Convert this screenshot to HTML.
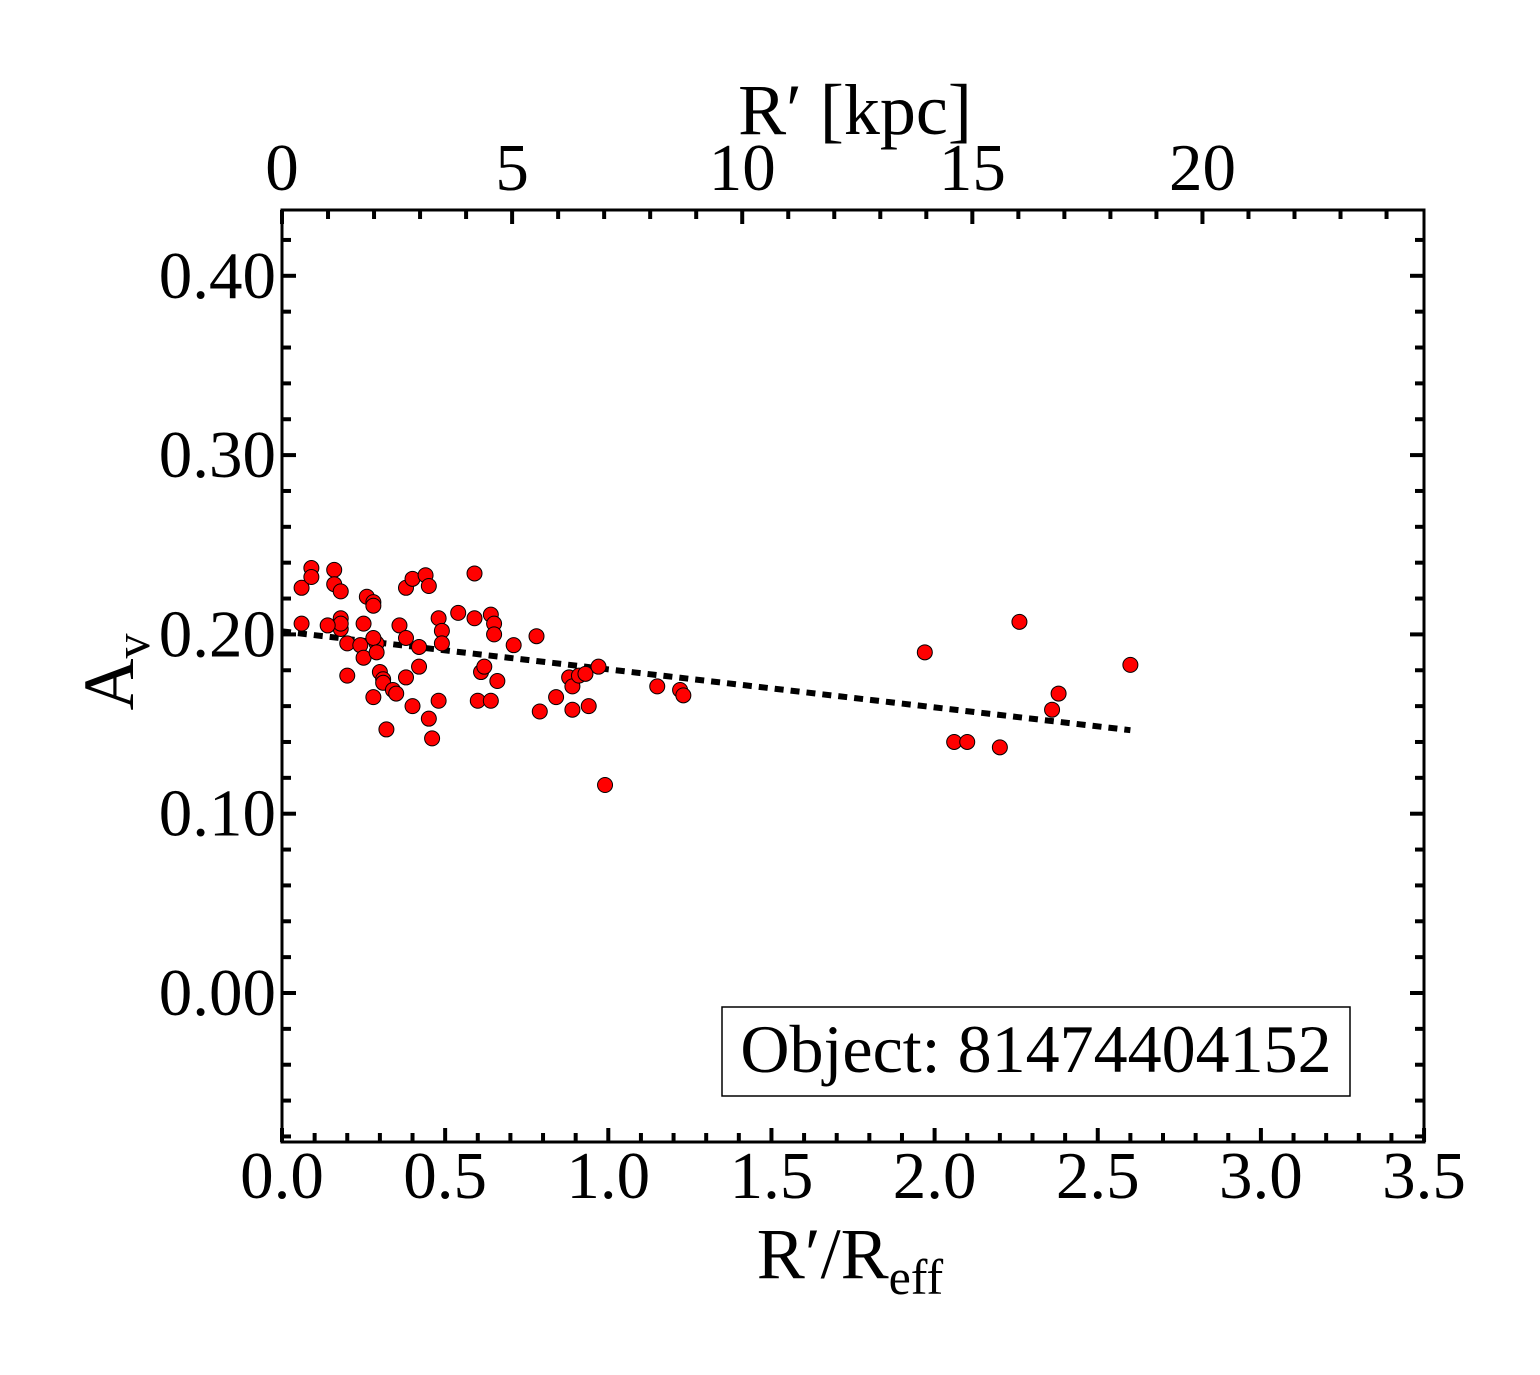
<!DOCTYPE html>
<html><head><meta charset="utf-8"><style>
body{margin:0;background:#fff;}
svg{display:block;font-family:"Liberation Serif",serif;}
</style></head><body>
<svg id="chart" width="1540" height="1375" viewBox="0 0 1540 1375">
<rect x="0" y="0" width="1540" height="1375" fill="#fff"/>
<g id="ticks"></g>
<line id="fit" stroke="#000" stroke-width="6" stroke-dasharray="9,7"/>
<g id="points"></g>
<rect x="282" y="210" width="1142" height="932" fill="none" stroke="#000" stroke-width="3"/>
<g id="labels" font-size="67" fill="#000"></g>
<text x="855" y="134" font-size="72" text-anchor="middle">R′ [kpc]</text>
<text x="850" y="1278" font-size="72" text-anchor="middle">R′/R<tspan font-size="50" dy="16">eff</tspan></text>
<text transform="translate(133,672) rotate(-90)" font-size="72" text-anchor="middle">A<tspan font-size="50" dy="16">v</tspan></text>
<rect x="722" y="1007" width="628" height="89" fill="#fff" stroke="#000" stroke-width="1.5"/>
<text x="1036" y="1072" font-size="68" text-anchor="middle">Object: 81474404152</text>
</svg>
<script>
const xs=[0.06,0.06,0.09,0.09,0.16,0.16,0.18,0.18,0.18,0.18,0.14,0.2,0.2,0.25,0.24,0.25,0.26,0.28,0.28,0.29,0.28,0.29,0.28,0.3,0.31,0.32,0.31,0.34,0.35,0.38,0.38,0.36,0.38,0.4,0.4,0.42,0.44,0.45,0.45,0.46,0.42,0.48,0.49,0.49,0.48,0.54,0.59,0.59,0.6,0.61,0.62,0.64,0.65,0.65,0.64,0.66,0.71,0.78,0.79,0.84,0.88,0.89,0.89,0.91,0.94,0.93,0.97,0.99,1.15,1.22,1.23,1.97,2.06,2.1,2.2,2.26,2.36,2.38,2.6];
const ys=[0.226,0.206,0.237,0.232,0.236,0.228,0.224,0.209,0.203,0.206,0.205,0.195,0.177,0.206,0.194,0.187,0.221,0.218,0.216,0.195,0.198,0.19,0.165,0.179,0.175,0.147,0.173,0.169,0.167,0.176,0.226,0.205,0.198,0.231,0.16,0.182,0.233,0.227,0.153,0.142,0.193,0.209,0.202,0.195,0.163,0.212,0.234,0.209,0.163,0.179,0.182,0.211,0.206,0.2,0.163,0.174,0.194,0.199,0.157,0.165,0.176,0.158,0.171,0.177,0.16,0.178,0.182,0.116,0.171,0.169,0.166,0.19,0.14,0.14,0.137,0.207,0.158,0.167,0.183];
const fitCoef=[0.2017,-0.0212];
const fitRange=[0,2.6];
const xTicks=["0.0","0.5","1.0","1.5","2.0","2.5","3.0","3.5"];
const yTicks=["0.00","0.10","0.20","0.30","0.40"];
const kpcTicks=["0","5","10","15","20"];
const kpcPerUnit=7.09;
const X=v=>282+v*326.3, Y=v=>993-v*1793, K=v=>282+v*(326.3/kpcPerUnit);
const NS="http://www.w3.org/2000/svg";
function mk(t,a,p){const e=document.createElementNS(NS,t);for(const k in a)e.setAttribute(k,a[k]);p.appendChild(e);return e;}
const tg=document.getElementById('ticks'),lg=document.getElementById('labels'),pg=document.getElementById('points');
function tk(x1,y1,x2,y2){const l=mk('line',{x1,y1,x2,y2,stroke:'#000','stroke-width':4},tg);

}
for(let i=0;i<=35;i++){const x=X(i/10),len=i%5==0?14:9;tk(x,1142,x,1142-len);}
for(let i=0;i<=24;i++){const x=K(i);if(x>1424)break;const len=i%5==0?14:9;tk(x,210,x,210+len);}
for(let i=-4;i<=21;i++){const y=Y(i/50);if(y<210||y>1142)continue;const len=i%5==0?14:9;tk(282,y,282+len,y);tk(1424,y,1424-len,y);}
xTicks.forEach(s=>{const t=mk('text',{x:X(parseFloat(s)),y:1198,'text-anchor':'middle'},lg);t.textContent=s;

});
yTicks.forEach(s=>{const t=mk('text',{x:276,y:Y(parseFloat(s))+22,'text-anchor':'end'},lg);t.textContent=s;

});
kpcTicks.forEach(s=>{const t=mk('text',{x:K(parseFloat(s)),y:190,'text-anchor':'middle'},lg);t.textContent=s;

});
const f=document.getElementById('fit');
f.setAttribute('x1',X(fitRange[0]));f.setAttribute('y1',Y(fitCoef[0]+fitCoef[1]*fitRange[0]));
f.setAttribute('x2',X(fitRange[1]));f.setAttribute('y2',Y(fitCoef[0]+fitCoef[1]*fitRange[1]));
xs.forEach((v,i)=>{const c=mk('circle',{cx:X(v),cy:Y(ys[i]),r:7.5,fill:'#ff0000',stroke:'#000','stroke-width':1},pg);

});
</script>
</body></html>
